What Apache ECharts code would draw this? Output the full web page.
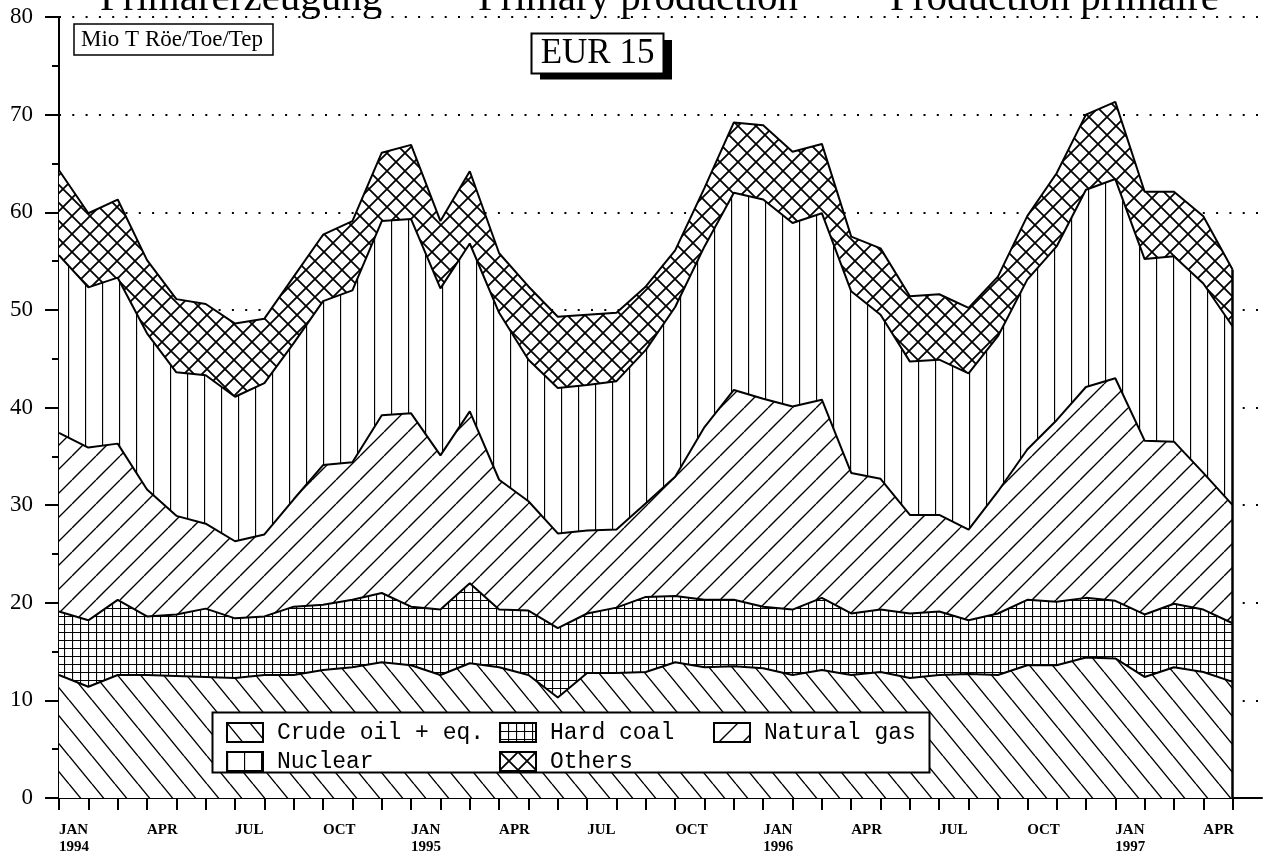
<!DOCTYPE html>
<html lang="de">
<head>
<meta charset="UTF-8">
<title>Primärerzeugung EUR 15</title>
<style>
  html, body { margin: 0; padding: 0; background: #fff; }
</style>
</head>
<body>
<div id="main" style="width:1264px;height:859px;"></div>
<script src="https://cdn.jsdelivr.net/npm/echarts@6/dist/echarts.min.js"></script>
<script>
// months Jan 1994 .. Jun 1997 (data runs to May 1997, last slot only extends the grid)
var months = ['JAN\n1994', 'FEB', 'MAR', 'APR', 'MAY', 'JUN', 'JUL', 'AUG', 'SEP', 'OCT', 'NOV', 'DEC',
              'JAN\n1995', 'FEB', 'MAR', 'APR', 'MAY', 'JUN', 'JUL', 'AUG', 'SEP', 'OCT', 'NOV', 'DEC',
              'JAN\n1996', 'FEB', 'MAR', 'APR', 'MAY', 'JUN', 'JUL', 'AUG', 'SEP', 'OCT', 'NOV', 'DEC',
              'JAN\n1997', 'FEB', 'MAR', 'APR', 'MAY', 'JUN'];

// Mio t oil equivalent per month
var crude   = [12.6, 11.4, 12.6, 12.6, 12.5, 12.4, 12.3, 12.6, 12.6, 13.1, 13.4, 13.9, 13.6, 12.6, 13.8, 13.4, 12.6, 10.3, 12.8, 12.8,
               12.9, 13.9, 13.4, 13.5, 13.3, 12.6, 13.1, 12.6, 12.9, 12.3, 12.6, 12.7, 12.6, 13.6, 13.6, 14.4, 14.3, 12.4, 13.4, 12.9, 11.9];
var coal    = [6.5, 6.8, 7.7, 6.0, 6.3, 7.0, 6.1, 6.0, 7.0, 6.7, 6.9, 7.1, 6.0, 6.7, 8.2, 5.9, 6.6, 7.1, 6.1, 6.7,
               7.7, 6.8, 6.9, 6.8, 6.3, 6.7, 7.4, 6.3, 6.4, 6.6, 6.5, 5.5, 6.3, 6.7, 6.5, 6.1, 5.9, 6.4, 6.5, 6.4, 6.0];
var gas     = [18.3, 17.7, 16.0, 13.0, 10.1, 8.7, 7.9, 8.4, 11.0, 14.3, 14.1, 18.2, 19.8, 15.8, 17.6, 13.3, 11.2, 9.7, 8.5, 8.0,
               9.6, 12.2, 17.7, 21.5, 21.3, 20.8, 20.3, 14.4, 13.4, 10.1, 9.9, 9.3, 12.5, 15.4, 18.6, 21.6, 22.8, 17.8, 16.6, 14.0, 12.1];
var nuclear = [18.2, 16.4, 17.0, 16.0, 14.7, 15.2, 14.8, 15.5, 16.0, 16.8, 17.6, 19.9, 19.9, 17.1, 17.2, 17.1, 14.5, 14.9, 14.9, 15.2,
               15.7, 17.4, 18.5, 20.2, 20.4, 18.8, 19.1, 18.6, 16.8, 15.7, 15.9, 16.0, 15.9, 17.4, 17.8, 20.2, 20.4, 18.6, 19.0, 19.4, 18.3];
var others  = [8.7, 7.6, 8.0, 7.5, 7.5, 7.3, 7.5, 6.6, 6.8, 6.8, 7.1, 7.0, 7.6, 6.9, 7.4, 6.1, 7.5, 7.3, 7.2, 7.0,
               6.5, 5.8, 6.0, 7.2, 7.6, 7.3, 7.1, 5.6, 6.8, 6.7, 6.7, 6.7, 6.1, 6.5, 7.5, 7.7, 7.9, 6.9, 6.6, 6.9, 5.8];

var names = ['Crude oil + eq.', 'Hard coal', 'Natural gas', 'Nuclear', 'Others'];
var yTicks = [0, 80, 10];

// hatch tiles (white background so the dotted grid does not show through)
function tile(w, h, lw, draw) {
    var c = document.createElement('canvas');
    c.width = w; c.height = h;
    var g = c.getContext('2d');
    g.fillStyle = '#fff';
    g.fillRect(0, 0, w, h);
    g.strokeStyle = '#000';
    g.lineWidth = lw;
    g.beginPath();
    draw(g, w, h);
    g.stroke();
    return { image: c, repeat: 'repeat' };
}

var patterns = [
    // crude: "\\\"
    tile(23, 28, 1.4, function (g, w, h) {
        for (var k = -1; k <= 1; k++) { g.moveTo(k * w, 0); g.lineTo(k * w + w, h); }
    }),
    // hard coal: fine grid
    tile(8, 8, 1.2, function (g, w, h) {
        g.moveTo(0.5, 0); g.lineTo(0.5, h);
        g.moveTo(0, 0.5); g.lineTo(w, 0.5);
    }),
    // natural gas: "///"
    tile(24, 24, 1.4, function (g, w, h) {
        for (var k = -1; k <= 1; k++) { g.moveTo(k * w, h); g.lineTo(k * w + w, 0); }
    }),
    // nuclear: vertical lines
    tile(17, 4, 1.3, function (g, w, h) {
        g.moveTo(0.5, 0); g.lineTo(0.5, h);
    }),
    // others: diagonal cross hatch
    tile(18, 18, 1.8, function (g, w, h) {
        for (var k = -1; k <= 1; k++) {
            g.moveTo(k * w, 0); g.lineTo(k * w + w, h);
            g.moveTo(k * w, h); g.lineTo(k * w + w, 0);
        }
    })
];

var values = [crude, coal, gas, nuclear, others];
var lastTotal = 0;
values.forEach(function (v) { lastTotal += v[v.length - 1]; });
var lastIdx = crude.length - 1;

var series = values.map(function (v, i) {
    var s = {
        name: names[i],
        type: 'line',
        stack: 'total',
        data: v,
        symbol: 'none',
        lineStyle: { color: '#000', width: 2 },
        itemStyle: { color: patterns[i] },
        areaStyle: { color: patterns[i], opacity: 1 },
        emphasis: { disabled: true },
        z: 2
    };
    if (i === values.length - 1) {
        s.markLine = {
            silent: true,
            symbol: ['none', 'none'],
            label: { show: false },
            lineStyle: { color: '#000', width: 2.5, type: 'solid' },
            data: [[{ coord: [lastIdx, 0] }, { coord: [lastIdx, lastTotal] }]]
        };
    }
    return s;
});

function legendItem(i) {
    return { name: names[i], itemStyle: { color: patterns[i], borderColor: '#000', borderWidth: 2 } };
}
var legendBase = {
    orient: 'vertical',
    top: 721,
    padding: 0,
    itemGap: 6,
    itemWidth: 36,
    itemHeight: 19,
    icon: 'rect',
    selectedMode: false,
    z: 10,
    textStyle: { fontFamily: 'Liberation Mono', fontSize: 23, color: '#000', lineHeight: 19, padding: [0, 0, 0, 9] }
};

var myChart = echarts.init(document.getElementById('main'));
var option = {
    animation: false,
    backgroundColor: '#fff',
    grid: { left: 59, right: 2, top: 17, bottom: 61 },
    xAxis: {
        type: 'category',
        data: months,
        boundaryGap: false,
        axisLine: { lineStyle: { color: '#000', width: 2 } },
        axisTick: {
            interval: function (idx) { return idx <= lastIdx; },
            length: 12,
            lineStyle: { color: '#000', width: 2 }
        },
        axisLabel: {
            interval: 2,
            align: 'left',
            color: '#000',
            fontFamily: 'Liberation Serif',
            fontWeight: 'bold',
            fontSize: 15,
            lineHeight: 17,
            margin: 24
        },
        splitLine: { show: false }
    },
    yAxis: {
        type: 'value',
        min: yTicks[0],
        max: yTicks[1],
        interval: yTicks[2],
        axisLine: { show: true, lineStyle: { color: '#000', width: 2 } },
        axisTick: { show: true, length: 14, lineStyle: { color: '#000', width: 2 } },
        minorTick: { show: true, splitNumber: 2, length: 7, lineStyle: { color: '#000', width: 2 } },
        axisLabel: { color: '#000', fontFamily: 'Liberation Serif', fontSize: 23, margin: 26 },
        splitLine: { show: true, lineStyle: { color: '#000', width: 2, type: [2, 11.3] } }
    },
    legend: [
        Object.assign({}, legendBase, { left: 226, data: [legendItem(0), legendItem(3)] }),
        Object.assign({}, legendBase, { left: 499, data: [legendItem(1), legendItem(4)] }),
        Object.assign({}, legendBase, { left: 713, data: [legendItem(2)] })
    ],
    graphic: [
        // titles, cut at the top edge
        { type: 'text', x: 100, y: 20, z: 5, style: { text: 'Primärerzeugung', font: '41px Liberation Serif', fill: '#000', textVerticalAlign: 'bottom' } },
        { type: 'text', x: 478, y: 20, z: 5, style: { text: 'Primary production', font: '41px Liberation Serif', fill: '#000', textVerticalAlign: 'bottom' } },
        { type: 'text', x: 890, y: 20, z: 5, style: { text: 'Production primaire', font: '41px Liberation Serif', fill: '#000', textVerticalAlign: 'bottom' } },
        // unit box
        { type: 'rect', z: 5, shape: { x: 74, y: 24, width: 199, height: 31 }, style: { fill: '#fff', stroke: '#000', lineWidth: 1.5 } },
        { type: 'text', x: 81, y: 40, z: 6, style: { text: 'Mio T Röe/Toe/Tep', font: '23px Liberation Serif', fill: '#000', textVerticalAlign: 'middle' } },
        // EUR 15 box with shadow
        { type: 'rect', z: 5, shape: { x: 540, y: 40, width: 132, height: 39.5 }, style: { fill: '#000' } },
        { type: 'rect', z: 6, shape: { x: 531.5, y: 33.5, width: 132, height: 40 }, style: { fill: '#fff', stroke: '#000', lineWidth: 2 } },
        { type: 'text', x: 597.5, y: 54, z: 7, style: { text: 'EUR 15', font: '35px Liberation Serif', fill: '#000', textAlign: 'center', textVerticalAlign: 'middle' } },
        // legend frame
        { type: 'rect', z: 4, shape: { x: 212.5, y: 712.5, width: 717, height: 60 }, style: { fill: '#fff', stroke: '#000', lineWidth: 2 } }
    ],
    series: series
};
myChart.setOption(option);
</script>
</body>
</html>
